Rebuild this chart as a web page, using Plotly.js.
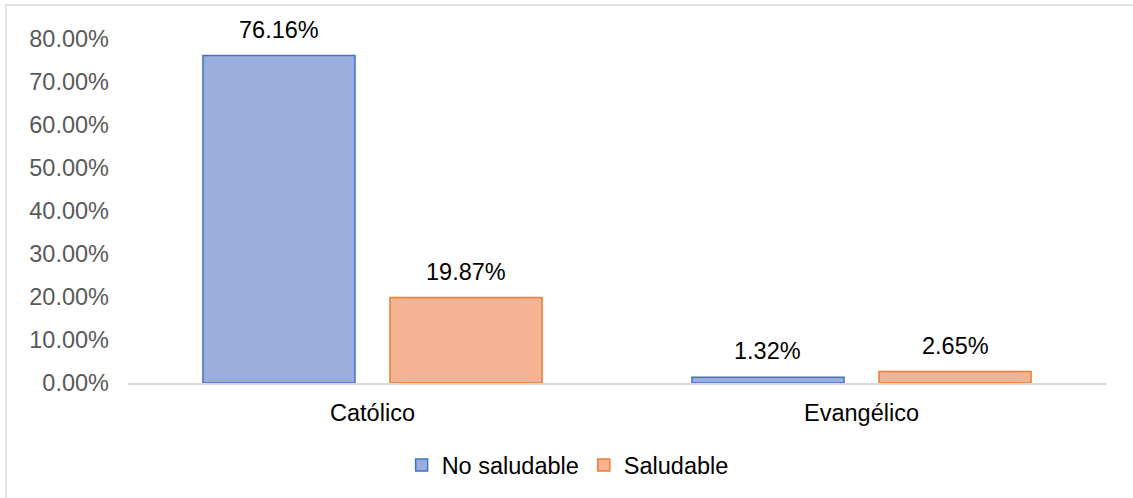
<!DOCTYPE html>
<html>
<head>
<meta charset="utf-8">
<script src="https://cdn.plot.ly/plotly-3.0.1.min.js"></script>
<style>
html,body{margin:0;padding:0;background:#fff;}
#chart{width:1133px;height:498px;}
</style>
</head>
<body>
<div id="chart"></div>
<script>
const categories = ["Católico", "Evangélico"];
const noSaludable = [76.16, 1.32];
const saludable = [19.87, 2.65];
const tickValues = [0, 10, 20, 30, 40, 50, 60, 70, 80];
const tickLabels = ["0.00%", "10.00%", "20.00%", "30.00%", "40.00%", "50.00%", "60.00%", "70.00%", "80.00%"];

const fmt = v => v.toFixed(2) + "%";
const FONT = "Liberation Sans, Arial, sans-serif";
const FS = 23.5;

const traces = [
  {
    type: "bar", name: "No saludable", x: categories, y: noSaludable,
    offsetgroup: "a",
    marker: {color: "#9AAEDD", line: {color: "#4472C4", width: 1.5}},
    hoverinfo: "none"
  },
  {
    type: "bar", name: "Saludable", x: categories, y: saludable,
    offsetgroup: "b",
    marker: {color: "#F5B393", line: {color: "#ED7D31", width: 1.5}},
    hoverinfo: "none"
  }
];

// Data labels as annotations, positioned from data values
const bargap = 0.235, bargroupgap = 0.187;
const slot = (1 - bargap) / 2; // in category units
const annotations = [];
[noSaludable, saludable].forEach((series, si) => {
  series.forEach((v, ci) => {
    annotations.push({
      x: ci + (si === 0 ? -slot / 2 : slot / 2), y: v, xref: "x", yref: "y",
      text: fmt(v), showarrow: false, yanchor: "bottom", yshift: 11,
      font: {family: FONT, size: FS, color: "#000"}
    });
  });
});

const layout = {
  width: 1133, height: 498,
  margin: {l: 128, r: 27, t: 39, b: 115},
  paper_bgcolor: "#fff", plot_bgcolor: "#fff",
  font: {family: FONT, size: FS, color: "#595959"},
  barmode: "group", bargap: bargap, bargroupgap: bargroupgap,
  showlegend: true,
  legend: {orientation: "h", x: 0.501, xref: "container", xanchor: "center", y: 0.066, yref: "container", yanchor: "middle",
           font: {family: FONT, size: FS, color: "#000"}, itemwidth: 30, tracegroupgap: 0},
  xaxis: {
    type: "category", showgrid: false, zeroline: false,
    showline: true, linecolor: "#D9D9D9", linewidth: 2,
    ticks: "", tickfont: {family: FONT, size: FS, color: "#000"}, ticklabelstandoff: 8
  },
  yaxis: {
    range: [0, 80], showgrid: false, zeroline: false, showline: false,
    tickmode: "array", tickvals: tickValues, ticktext: tickLabels,
    ticks: "", tickfont: {family: FONT, size: FS, color: "#595959"}, ticklabelstandoff: 18
  },
  annotations: annotations,
  shapes: [{
    type: "rect", xref: "paper", yref: "paper",
    x0: (6 - 128) / 978, x1: 1.2, y0: -0.5, y1: (383 - 5) / 344,
    line: {color: "#D9D9D9", width: 1.5}, fillcolor: "rgba(0,0,0,0)", layer: "below"
  }]
};

Plotly.newPlot("chart", traces, layout, {staticPlot: true});
</script>
</body>
</html>
